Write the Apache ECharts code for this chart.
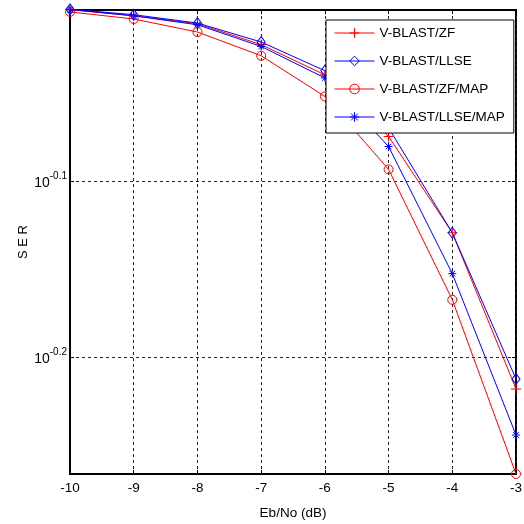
<!DOCTYPE html>
<html>
<head>
<meta charset="utf-8">
<script src="https://cdn.jsdelivr.net/npm/echarts@6/dist/echarts.min.js"></script>
<style>
  html, body { margin: 0; padding: 0; background: #fff; }
  #chart { width: 524px; height: 524px; }
</style>
</head>
<body>
<div id="chart"></div>
<script>
// Eb/No (dB)
const ebno = [-10, -9, -8, -7, -6, -5, -4, -3]
// SER per detector
const serZF      = [0.9936, 0.9856, 0.9754, 0.9491, 0.9124, 0.8418, 0.7422, 0.6051]
const serLLSE    = [0.9940, 0.9870, 0.9763, 0.9524, 0.9173, 0.8513, 0.7422, 0.6131]
const serZFMAP   = [0.9906, 0.9815, 0.9649, 0.9354, 0.8870, 0.8063, 0.6800, 0.5415]
const serLLSEMAP = [0.9936, 0.9856, 0.9741, 0.9469, 0.9087, 0.8308, 0.7036, 0.5698]
const yTicks = [Math.pow(10, -0.2), Math.pow(10, -0.1)]
const yMin = 0.5415
const yMax = 0.9931

const FONT = "'Liberation Sans', Arial, sans-serif"
const PLUS = 'path://M0,5L10,5M5,0L5,10'
const STAR = 'path://M0,5L10,5M5,0L5,10M1.5,1.5L8.5,8.5M8.5,1.5L1.5,8.5'

const pairs = ys => ebno.map((x, i) => [x, ys[i]])

function line(name, ys, color, symbol, size) {
  return {
    name, type: 'line', data: pairs(ys),
    symbol, symbolSize: size, clip: false,
    lineStyle: { color, width: 1 },
    itemStyle: { color: 'rgba(0,0,0,0)', borderColor: color, borderWidth: 1 },
    emphasis: { disabled: true },
  }
}

const chart = echarts.init(document.getElementById('chart'))
const dash = { show: true, lineStyle: { color: '#222', type: [3, 3], width: 1 } }

chart.setOption({
  animation: false,
  grid: {
    left: 70, right: 8, top: 10, bottom: 50, outerBoundsMode: 'none',
    show: true, borderColor: '#000', borderWidth: 2, backgroundColor: '#fff',
  },
  legend: {
    orient: 'vertical', left: 326, top: 20,
    padding: [6, 9, 9, 8],
    itemWidth: 40, itemHeight: 12, itemGap: 14,
    backgroundColor: '#fff', borderColor: '#000', borderWidth: 1,
    lineStyle: { width: 1 },
    itemStyle: { borderWidth: 1 },
    textStyle: { fontFamily: FONT, fontSize: 13.5, color: '#000' },
    data: ['V-BLAST/ZF', 'V-BLAST/LLSE', 'V-BLAST/ZF/MAP', 'V-BLAST/LLSE/MAP'],
  },
  xAxis: [{
    type: 'value', min: -10, max: -3, interval: 1,
    name: 'Eb/No (dB)', nameLocation: 'middle', nameGap: 32,
    nameTextStyle: { fontFamily: FONT, fontSize: 13.5, color: '#000' },
    axisLine: { lineStyle: { color: '#000', width: 2 } },
    axisTick: { inside: true, length: 4, lineStyle: { color: '#000' } },
    axisLabel: { fontFamily: FONT, fontSize: 13.5, color: '#000', margin: 7 },
    splitLine: dash,
  }, {
    type: 'value', min: -10, max: -3, interval: 1, position: 'top',
    axisLine: { show: false },
    axisTick: { inside: true, length: 4, lineStyle: { color: '#000' } },
    axisLabel: { show: false }, splitLine: { show: false },
  }],
  yAxis: [{
    type: 'log', logBase: 10, min: yMin, max: yMax,
    name: 'S E R', nameLocation: 'middle', nameGap: 40, nameMoveOverlap: false,
    nameTextStyle: { fontFamily: FONT, fontSize: 13, color: '#000' },
    axisLine: { show: true, lineStyle: { color: '#000', width: 2 } },
    axisTick: { inside: true, length: 4, customValues: yTicks, lineStyle: { color: '#000' } },
    axisLabel: {
      customValues: yTicks, margin: 3,
      formatter: v => '{b|10}{s|' + Math.log10(v).toFixed(1) + '}',
      rich: {
        b: { fontFamily: FONT, fontSize: 14, color: '#000', verticalAlign: 'bottom' },
        s: { fontFamily: FONT, fontSize: 10, color: '#000', verticalAlign: 'bottom', padding: [0, 0, 9, 0] },
      },
    },
    splitLine: dash,
  }, {
    type: 'log', logBase: 10, min: yMin, max: yMax, position: 'right',
    axisLine: { show: false },
    axisTick: { inside: true, length: 4, customValues: yTicks, lineStyle: { color: '#000' } },
    axisLabel: { show: false }, splitLine: { show: false },
  }],
  series: [
    line('V-BLAST/ZF', serZF, '#ff0000', PLUS, 10),
    line('V-BLAST/LLSE', serLLSE, '#0000ff', 'diamond', [8, 11]),
    line('V-BLAST/ZF/MAP', serZFMAP, '#ff0000', 'circle', 9),
    line('V-BLAST/LLSE/MAP', serLLSEMAP, '#0000ff', STAR, 8),
  ],
})
</script>
</body>
</html>
